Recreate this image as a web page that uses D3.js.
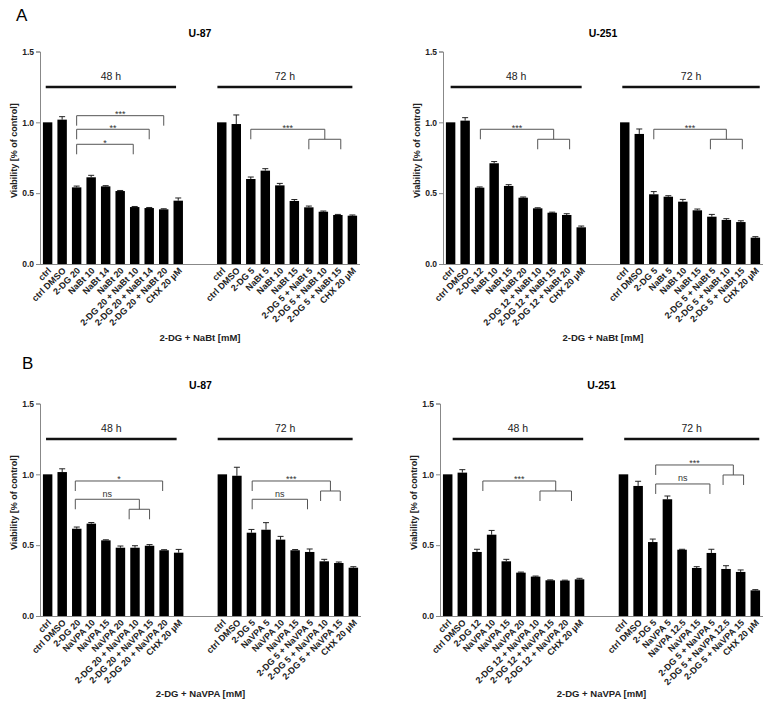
<!DOCTYPE html>
<html><head><meta charset="utf-8">
<script src="https://cdn.jsdelivr.net/npm/d3@7"></script>
<style>body{margin:0;background:#fff}svg{display:block}text{font-family:"Liberation Sans",Arial,sans-serif}</style>
</head><body>
<svg id="c" width="769" height="706"></svg>
<script>
// ---------- DATA ----------
const u87NaBtLabels48 = ["ctrl","ctrl DMSO","2-DG 20","NaBt 10","NaBt 14","NaBt 20","2-DG 20 + NaBt 10","2-DG 20 + NaBt 14","2-DG 20 + NaBt 20","CHX 20 µM"];
const u87NaBtLabels72 = ["ctrl","ctrl DMSO","2-DG 5","NaBt 5","NaBt 10","NaBt 15","2-DG 5 + NaBt 5","2-DG 5 + NaBt 10","2-DG 5 + NaBt 15","CHX 20 µM"];
const u87NaBtMean48 = [1.00,1.019,0.541,0.612,0.548,0.515,0.402,0.395,0.386,0.447];
const u87NaBtErr48  = [0,0.021,0.009,0.014,0.005,0.004,0.004,0.004,0.004,0.019];
const u87NaBtMean72 = [1.00,0.988,0.600,0.659,0.555,0.445,0.400,0.369,0.346,0.341];
const u87NaBtErr72  = [0,0.064,0.014,0.014,0.014,0.010,0.009,0.005,0.004,0.005];

const u251NaBtLabels48 = ["ctrl","ctrl DMSO","2-DG 12","NaBt 10","NaBt 15","NaBt 20","2-DG 12 + NaBt 10","2-DG 12 + NaBt 15","2-DG 12 + NaBt 20","CHX 20 µM"];
const u251NaBtLabels72 = ["ctrl","ctrl DMSO","2-DG 5","NaBt 5","NaBt 10","NaBt 15","2-DG 5 + NaBt 5","2-DG 5 + NaBt 10","2-DG 5 + NaBt 15","CHX 20 µM"];
const u251NaBtMean48 = [1.00,1.012,0.539,0.711,0.551,0.468,0.393,0.362,0.346,0.259];
const u251NaBtErr48  = [0,0.021,0.005,0.012,0.009,0.005,0.004,0.004,0.009,0.009];
const u251NaBtMean72 = [1.00,0.918,0.492,0.475,0.440,0.379,0.334,0.311,0.296,0.186];
const u251NaBtErr72  = [0,0.035,0.019,0.007,0.016,0.009,0.016,0.009,0.009,0.007];

const u87VpaLabels48 = ["ctrl","ctrl DMSO","2-DG 20","NaVPA 10","NaVPA 15","NaVPA 20","2-DG 20 + NaVPA 10","2-DG 20 + NaVPA 15","2-DG 20 + NaVPA 20","CHX 20 µM"];
const u87VpaLabels72 = ["ctrl","ctrl DMSO","2-DG 5","NaVPA 5","NaVPA 10","NaVPA 15","2-DG 5 + NaVPA 5","2-DG 5 + NaVPA 10","2-DG 5 + NaVPA 15","CHX 20 µM"];
const u87VpaMean48 = [1.00,1.016,0.616,0.652,0.534,0.482,0.482,0.496,0.464,0.447];
const u87VpaErr48  = [0,0.023,0.012,0.008,0.004,0.012,0.014,0.008,0.004,0.023];
const u87VpaMean72 = [1.00,0.990,0.588,0.609,0.539,0.464,0.452,0.386,0.374,0.341];
const u87VpaErr72  = [0,0.060,0.023,0.050,0.023,0.005,0.021,0.014,0.007,0.007];

const u251VpaLabels48 = ["ctrl","ctrl DMSO","2-DG 12","NaVPA 10","NaVPA 15","NaVPA 20","2-DG 12 + NaVPA 10","2-DG 12 + NaVPA 15","2-DG 12 + NaVPA 20","CHX 20 µM"];
const u251VpaLabels72 = ["ctrl","ctrl DMSO","2-DG 5","NaVPA 5","NaVPA 12.5","NaVPA 15","2-DG 5 + NaVPA 5","2-DG 5 + NaVPA 12.5","2-DG 5 + NaVPA 15","CHX 20 µM"];
const u251VpaMean48 = [1.00,1.012,0.452,0.574,0.386,0.306,0.278,0.252,0.250,0.259];
const u251VpaErr48  = [0,0.021,0.019,0.030,0.014,0.004,0.004,0.003,0.003,0.007];
const u251VpaMean72 = [1.00,0.918,0.522,0.824,0.468,0.339,0.445,0.332,0.311,0.181];
const u251VpaErr72  = [0,0.033,0.021,0.023,0.003,0.009,0.026,0.023,0.014,0.005];

const yTicks = [0, 0.5, 1.0, 1.5];
const groupNames = ["48 h", "72 h"];

// significance brackets (bar-slot index units, y in data units)
const bracketsA87 = [
  {x1:2, x2:8, y:1.047, label:"***"},
  {x1:2, x2:7, y:0.951, label:"**"},
  {x1:2, x2:5.9, y:0.845, label:"*"},
  {x1:14, y:0.951, label:"***", sub:[18,20.2]}
];
const bracketsA251 = [
  {x1:2.05, y:0.951, label:"***", sub:[6,8.2]},
  {x1:14, y:0.951, label:"***", sub:[17.9,20.1]}
];
const bracketsB87 = [
  {x1:1.9, x2:7.9, y:0.953, label:"*"},
  {x1:1.9, y:0.824, label:"ns", sub:[5.6,7]},
  {x1:14.05, y:0.953, label:"***", sub:[18.75,20.1]},
  {x1:14.05, x2:17.85, y:0.824, label:"ns"}
];
const bracketsB251 = [
  {x1:2.4, y:0.953, label:"***", sub:[6.3,8.45]},
  {x1:14.2, y:1.066, label:"***", sub:[18.8,20.2]},
  {x1:14.2, x2:17.9, y:0.932, label:"ns"}
];

// ---------- DRAW ----------
const svg = d3.select("#c");
const F = '"Liberation Sans",Arial,sans-serif';

svg.append("text").attr("x",16).attr("y",21).attr("font-size",17).text("A");
svg.append("text").attr("x",22).attr("y",369).attr("font-size",17).text("B");

const panels = [
  {title:"U-87", xt:"2-DG + NaBt [mM]", xr:[40,360], yr:[264,51.5], l48:u87NaBtLabels48, l72:u87NaBtLabels72, m48:u87NaBtMean48, e48:u87NaBtErr48, m72:u87NaBtMean72, e72:u87NaBtErr72, br:bracketsA87, g:[[-0.13,8.85],[11.7,21.0]], xtY:341},
  {title:"U-251", xt:"2-DG + NaBt [mM]", xr:[443,763], yr:[264,51.5], l48:u251NaBtLabels48, l72:u251NaBtLabels72, m48:u251NaBtMean48, e48:u251NaBtErr48, m72:u251NaBtMean72, e72:u251NaBtErr72, br:bracketsA251, g:[[0,9.03],[11.83,21.3]], xtY:341},
  {title:"U-87", xt:"2-DG + NaVPA [mM]", xr:[40,361], yr:[616,403.5], l48:u87VpaLabels48, l72:u87VpaLabels72, m48:u87VpaMean48, e48:u87VpaErr48, m72:u87VpaMean72, e72:u87VpaErr72, br:bracketsB87, g:[[-0.11,8.86],[11.68,20.95]], xtY:697},
  {title:"U-251", xt:"2-DG + NaVPA [mM]", xr:[440,763], yr:[616,403.5], l48:u251VpaLabels48, l72:u251VpaLabels72, m48:u251VpaMean48, e48:u251VpaErr48, m72:u251VpaMean72, e72:u251VpaErr72, br:bracketsB251, g:[[0.34,9.25],[12.05,21.27]], xtY:697}
];

panels.forEach(p => {
  const g = svg.append("g");
  const slots = d3.range(22);
  const xb = d3.scaleBand().domain(slots).range(p.xr).paddingInner(0.35).paddingOuter(0.2);
  const cx = i => xb(0) + xb.bandwidth()/2 + i*xb.step();
  const y = d3.scaleLinear().domain([0,1.5]).range(p.yr);
  const bars = [];
  p.l48.forEach((l,i)=>bars.push({slot:i, label:l, v:p.m48[i], e:p.e48[i]}));
  p.l72.forEach((l,i)=>bars.push({slot:12+i, label:l, v:p.m72[i], e:p.e72[i]}));

  // error bars
  const eb = g.selectAll(".eb").data(bars.filter(d=>d.e>0)).join("g");
  eb.append("line").attr("x1",d=>xb(d.slot)+xb.bandwidth()/2).attr("x2",d=>xb(d.slot)+xb.bandwidth()/2)
    .attr("y1",d=>y(d.v)).attr("y2",d=>y(d.v+d.e)).attr("stroke","#222").attr("stroke-width",1);
  eb.append("line").attr("x1",d=>xb(d.slot)+xb.bandwidth()/2-3).attr("x2",d=>xb(d.slot)+xb.bandwidth()/2+3)
    .attr("y1",d=>y(d.v+d.e)).attr("y2",d=>y(d.v+d.e)).attr("stroke","#222").attr("stroke-width",1);
  // bars
  g.selectAll(".bar").data(bars).join("rect")
    .attr("x",d=>xb(d.slot)).attr("width",xb.bandwidth())
    .attr("y",d=>y(d.v)).attr("height",d=>y(0)-y(d.v)).attr("fill","#000");

  // axes
  const yAxis = d3.axisLeft(y).tickValues(yTicks).tickFormat(d3.format(".1f")).tickSize(4).tickPadding(2);
  const ya = g.append("g").attr("transform",`translate(${p.xr[0]},0)`).call(yAxis);
  ya.select(".domain").attr("stroke","#888");
  ya.selectAll(".tick line").attr("stroke","#888");
  ya.selectAll(".tick text").attr("font-size",8.5).attr("font-weight","bold").attr("font-family",F).attr("fill","#222");
  const xAxis = d3.axisBottom(xb).tickSize(0).tickFormat(()=>"");
  const xa = g.append("g").attr("transform",`translate(0,${y(0)})`).call(xAxis);
  xa.select(".domain").attr("stroke","#888").attr("d",`M${p.xr[0]},0.5H${p.xr[1]}`);
  xa.selectAll(".tick").remove();

  // x tick labels
  g.selectAll(".xl").data(bars).join("text")
    .attr("transform",d=>`translate(${xb(d.slot)+xb.bandwidth()/2+2},${y(0)+5}) rotate(-45)`)
    .attr("text-anchor","end").attr("dy","0.35em").attr("font-size",9).attr("font-weight","bold").attr("fill","#222")
    .text(d=>d.label);

  // y label
  g.append("text").attr("transform",`translate(${p.xr[0]-23},${y(0.8)}) rotate(-90)`)
    .attr("text-anchor","middle").attr("font-size",9).attr("font-weight","bold").attr("fill","#222")
    .text("Viability [% of control]");
  // title
  const xm = (p.xr[0]+p.xr[1])/2;
  g.append("text").attr("x",xm).attr("y",y(1.5)-15).attr("text-anchor","middle")
    .attr("font-size",10.5).attr("font-weight","bold").text(p.title);
  // x title
  g.append("text").attr("x",xm).attr("y",p.xtY).attr("text-anchor","middle")
    .attr("font-size",9.5).attr("font-weight","bold").attr("fill","#222").text(p.xt);

  // group lines
  p.g.forEach((r,k)=>{
    g.append("line").attr("x1",cx(r[0])).attr("x2",cx(r[1])).attr("y1",y(1.25)).attr("y2",y(1.25))
      .attr("stroke","#111").attr("stroke-width",2.5);
    g.append("text").attr("x",(cx(r[0])+cx(r[1]))/2).attr("y",y(1.25)-7).attr("text-anchor","middle")
      .attr("font-size",10.5).attr("fill","#222").text(groupNames[k]);
  });

  // brackets
  const drop = 10;
  p.br.forEach(b=>{
    const top = y(b.y);
    const xl = cx(b.x1);
    let xr, path;
    if (b.sub) {
      const s1 = cx(b.sub[0]), s2 = cx(b.sub[1]);
      xr = (s1+s2)/2;
      path = `M${xl},${top+drop}V${top}H${xr}V${top+drop}M${s1},${top+2*drop}V${top+drop}H${s2}V${top+2*drop}`;
    } else {
      xr = cx(b.x2);
      path = `M${xl},${top+drop}V${top}H${xr}V${top+drop}`;
    }
    g.append("path").attr("d",path).attr("fill","none").attr("stroke","#555").attr("stroke-width",1);
    const isNs = b.label==="ns";
    g.append("text").attr("x",(xl+xr)/2).attr("y",isNs? top-2.5 : top+1.5)
      .attr("text-anchor","middle").attr("font-size",isNs?9:9).attr("fill","#333").text(b.label);
  });
});
</script>
</body></html>
